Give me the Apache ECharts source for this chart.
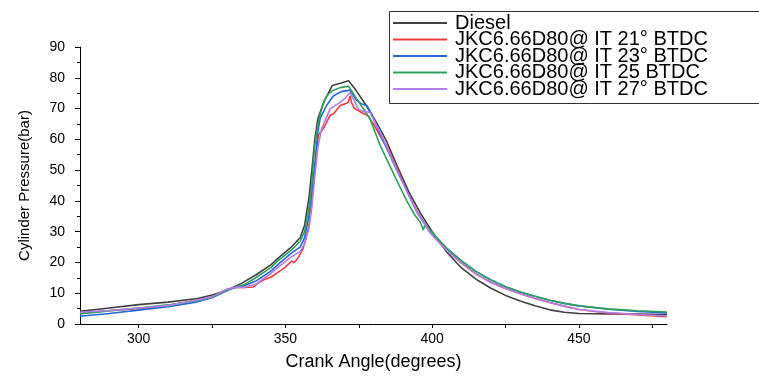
<!DOCTYPE html>
<html>
<head>
<meta charset="utf-8">
<script src="https://cdn.jsdelivr.net/npm/echarts@6/dist/echarts.min.js"></script>
<style>html,body{margin:0;padding:0;background:#fff;}#c{width:759px;height:376px;}</style>
</head>
<body>
<div id="c"></div>
<script>
var seriesNames = ['Diesel', 'JKC6.66D80@ IT 21° BTDC', 'JKC6.66D80@ IT 23° BTDC', 'JKC6.66D80@ IT 25 BTDC', 'JKC6.66D80@ IT 27° BTDC'];
var xTickLabels = [300, 350, 400, 450];
var xTicks = [300, 325, 350, 375, 400, 425, 450, 475];

var dieselAngle = [280,290,300,310,320,325,330,335,340,345,348,352,355,356.5,358,359,360,361,363,366,369,371.5,374,377.5,381,384.5,388,392,396,400,405,410,415,420,425,430,435,440,445,450,460,470,480];
var dieselP     = [4.1,5.2,6.3,7.1,8.3,9.4,11.0,13.2,16.0,19.2,21.8,25.0,28.0,32,41,50,60,66.5,72,77.5,78.3,79,76,71,65.5,59.3,51.5,43,36,30,23.3,18.2,14.5,11.6,9.3,7.5,5.9,4.6,3.8,3.4,3.3,3.2,3.1];

var it21Angle = [280,290,300,310,320,325,330,333,336,339,341,343,345,347,348,350,352,353,354.5,356,357,358,359,360,361.2,361.8,362.9,364,365.2,366.5,368.6,370.5,371.4,372,372.5,373.5,374.5,376.5,378,380,383.3,385,388,391.3,395,399.3,405,410,415,420,425,430,435,440,445,450,460,470,480];
var it21P     = [3.6,4.4,5.0,6.0,7.8,8.8,11.2,11.9,11.9,12.0,13.5,14.5,15.2,16.5,17.2,18.5,20.4,20.0,21.8,24.5,28,32,40,50,61.4,60.8,63.5,65.5,67.8,68.4,71,71.6,72,74.1,72,70,69.5,68.4,67.8,65,59.3,57.1,50.5,43.3,36.3,29.8,23.8,19.8,16.2,13.5,11.5,9.8,8.3,7.0,5.8,4.7,3.6,2.9,2.4];

var it23Angle = [280,290,300,310,320,325,330,333,336,340,345,348,352,355,356.5,358,359,360,361,361.8,364,366.3,369,372,374.3,376,377.7,379.5,381,383.3,385,388,391.3,395,399.3,405,410,415,420,425,430,435,440,445,450,460,470,480];
var it23P     = [2.5,3.4,4.5,5.6,7.2,8.5,10.8,11.9,12.5,14.0,17.2,19.8,23,25,28,35,43,52,62,66.7,71,74.1,75.5,76,72.6,71.5,71,68,64.6,59.5,56,49.8,43.3,36,29.8,24.6,20.5,17.0,14.3,12.1,10.4,9.0,7.7,6.7,5.9,4.8,4.1,3.6];

var it25Angle = [280,290,300,310,320,325,330,333,336,340,345,348,352,355,356.5,358,359,360,361.2,362.5,364,366,368.6,371.5,374.3,376.5,378.8,382.2,385,388,391.3,394,396,397,397.5,400,405,410,415,420,425,430,435,440,445,450,460,470,480];
var it25P     = [3.3,4.2,5.2,6.2,7.6,8.8,11.0,11.9,12.8,15.1,18.3,21,24,26.8,30,38,46,58,65.6,70.5,74.1,75.8,76.8,77.3,73.1,70,66.7,58.2,52.5,46.5,40.1,35.5,33.0,30.5,32.3,29.8,24.5,20.4,17.0,14.3,12.1,10.4,9.0,7.7,6.7,5.9,4.9,4.3,3.9];

var it27Angle = [280,290,300,310,320,325,330,333,336,340,345,348,352,355,356.5,358,359,360,361,362.3,363.5,365.2,368.6,370.5,372,373.5,374.8,376.5,378.8,380,382.2,385,388,391.3,395,399.3,405,410,415,420,425,430,435,440,445,450,460,470,480];
var it27P     = [3.8,4.4,5.2,6.0,7.8,8.8,11.3,11.9,11.9,13.0,16.4,18.8,21.8,23.5,26,31,38,48,57,63.5,66,69.9,72,73.5,75.2,72.5,69.9,69,68.8,66.5,62.5,56.5,50,43.3,36,29.6,23.8,19.8,16.2,13.5,11.5,9.8,8.3,7.0,5.8,4.7,3.7,3.1,2.6];

var colors = ['#404040', '#f23b3b', '#2468dc', '#2fa15c', '#b07ee6'];

function pairs(a, b) { return a.map(function (v, i) { return [v, b[i]]; }); }
var allData = [pairs(dieselAngle, dieselP), pairs(it21Angle, it21P), pairs(it23Angle, it23P), pairs(it25Angle, it25P), pairs(it27Angle, it27P)];

var FONT = 'Liberation Sans, Arial, sans-serif';
var chart = echarts.init(document.getElementById('c'), null, {renderer: 'canvas'});
chart.setOption({
  animation: false,
  backgroundColor: '#ffffff',
  color: colors,
  grid: {left: 80, right: 92, top: 47, bottom: 47, containLabel: false},
  graphic: [{
    type: 'rect', left: 389, top: 11, z: 0,
    shape: {width: 420, height: 92},
    style: {fill: '#fff', stroke: '#333', lineWidth: 1}
  }],
  legend: {
    orient: 'vertical',
    left: 389, top: 11,
    padding: [2, 4, 4, 4],
    itemGap: -3.5,
    itemWidth: 54, itemHeight: 2,
    icon: 'rect',
    z: 5,
    data: seriesNames,
    textStyle: {fontFamily: FONT, fontSize: 20, color: '#000', padding: [0, 0, 0, 3]}
  },
  xAxis: {
    type: 'value', min: 280, max: 480,
    name: 'Crank Angle(degrees)', nameLocation: 'middle', nameGap: 29,
    nameTextStyle: {fontFamily: FONT, fontSize: 18, color: '#000'},
    axisLine: {show: true, lineStyle: {color: '#000', width: 1}},
    axisTick: {show: true, length: 4, customValues: xTicks, lineStyle: {color: '#000'}},
    axisLabel: {customValues: xTickLabels, fontFamily: FONT, fontSize: 14, color: '#000', margin: 8},
    splitLine: {show: false}
  },
  yAxis: {
    type: 'value', min: 0, max: 90, interval: 10,
    name: 'Cylinder Pressure(bar)', nameLocation: 'middle', nameGap: 48,
    nameTextStyle: {fontFamily: FONT, fontSize: 15, color: '#000'},
    axisLine: {show: true, lineStyle: {color: '#000', width: 1}},
    axisTick: {show: true, length: 5, lineStyle: {color: '#000'}},
    minorTick: {show: true, splitNumber: 2, length: 3, lineStyle: {color: '#000'}},
    axisLabel: {fontFamily: FONT, fontSize: 14, color: '#000', margin: 15},
    splitLine: {show: false}
  },
  series: seriesNames.map(function (n, i) {
    return {
      name: n, type: 'line', data: allData[i], showSymbol: false, symbol: 'none',
      lineStyle: {width: 1.6, color: colors[i]}, itemStyle: {color: colors[i]}
    };
  })
});
</script>
</body>
</html>
